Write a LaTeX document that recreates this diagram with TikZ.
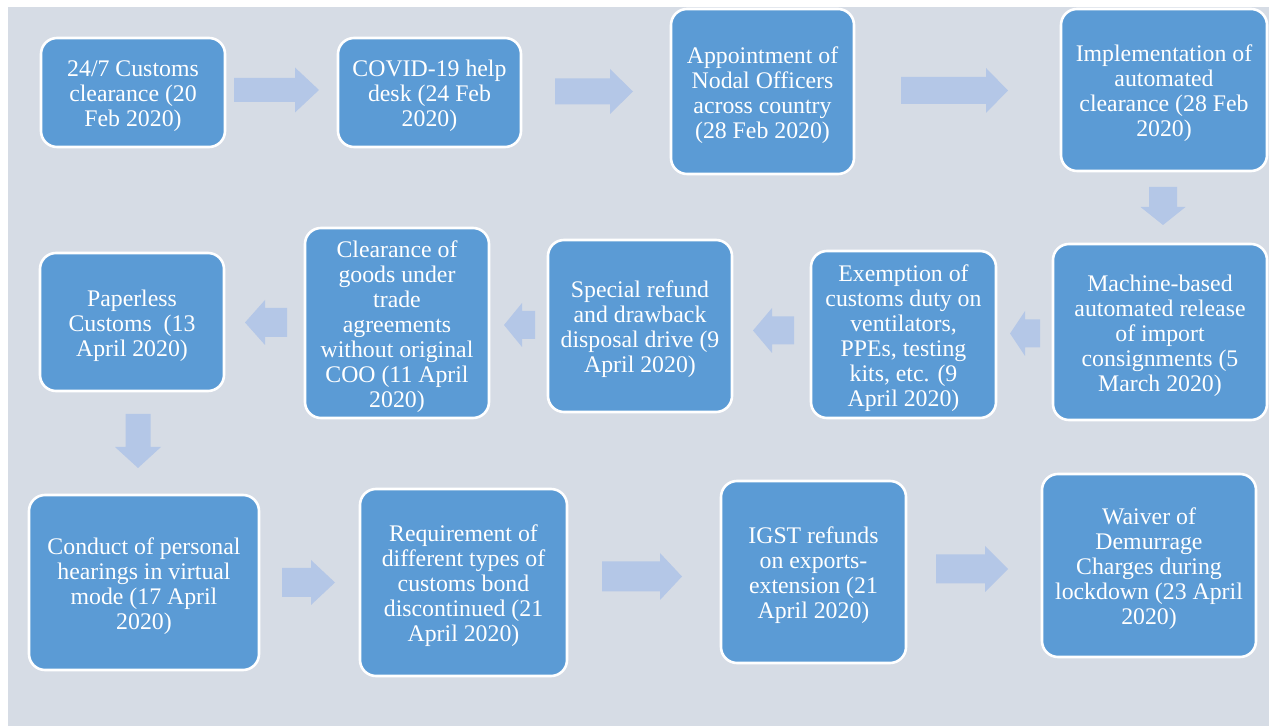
\documentclass[tikz,border=0pt]{standalone}
\usepackage{fontspec}
\setmainfont{Liberation Serif}
\definecolor{bgcol}{HTML}{D6DCE5}
\definecolor{boxcol}{HTML}{5B9BD5}
\definecolor{arrcol}{HTML}{B4C7E7}
\tikzset{
  box/.style={draw=white, line width=1.3pt, fill=boxcol, rounded corners=8pt, inner sep=0pt},
  boxtext/.style={text=white, align=center, inner sep=0pt,
    font=\fontsize{11.9}{12.5}\selectfont},
  arrowfill/.style={fill=arrcol}
}
% box: name, x, y, width, height, text
\newcommand\mybox[6]{\node[box, minimum width=#4, minimum height=#5] (#1) at (#2,#3) {};
  \node[boxtext] (#1t) at ([yshift=-1.75pt]#1.center) {#6};}
% horizontal block arrow: tail x, tip x, centre y, body half, head half, head length (signed)
\newcommand\myharrow[6]{\fill[arrowfill] (#1,{#3-#4}) -- ({#2-#6},{#3-#4}) -- ({#2-#6},{#3-#5}) -- (#2,#3) -- ({#2-#6},{#3+#5}) -- ({#2-#6},{#3+#4}) -- (#1,{#3+#4}) -- cycle;}
% vertical block arrow: tail y, tip y, centre x, body half, head half, head length
\newcommand\myvarrow[6]{\fill[arrowfill] ({#3-#4},#1) -- ({#3-#4},{#2-#6}) -- ({#3-#5},{#2-#6}) -- (#3,#2) -- ({#3+#5},{#2-#6}) -- ({#3+#4},{#2-#6}) -- ({#3+#4},#1) -- cycle;}
\begin{document}
\begin{tikzpicture}[x=0.5pt,y=-0.5pt]
\useasboundingbox (0,0) rectangle (1269,726);
\fill[white] (0,0) rectangle (1269,726);
\fill[bgcol] (8,7) rectangle (1269,726);

% row 1
\mybox{b1}{133}{92.5}{92pt}{54.5pt}{24/7 Customs\\clearance (20\\Feb 2020)}
\mybox{b2}{429.5}{92.5}{91.5pt}{54.5pt}{COVID-19 help\\desk (24 Feb\\2020)}
\mybox{b3}{762.5}{91.5}{91.5pt}{82.5pt}{Appointment of\\Nodal Officers\\across country\\(28 Feb 2020)}
\mybox{b4}{1164}{90}{103pt}{81pt}{Implementation of\\automated\\clearance (28 Feb\\2020)}

% row 2
\mybox{b5}{1160}{332}{107pt}{88pt}{Machine-based\\automated release\\of import\\consignments (5\\March 2020)}
\mybox{b6}{903.5}{334.5}{92.5pt}{83.5pt}{Exemption of\\customs duty on\\ventilators,\\PPEs, testing\\kits, etc. (9\\April 2020)}
\mybox{b7}{640}{326}{92pt}{86pt}{Special refund\\and drawback\\disposal drive (9\\April 2020)}
\mybox{b8}{397}{323}{92pt}{95pt}{Clearance of\\goods under\\trade\\agreements\\without original\\COO (11 April\\2020)}
\mybox{b9}{132}{322}{92pt}{69pt}{Paperless\\Customs\ \ (13\\April 2020)}

% row 3
\mybox{b10}{144}{582.5}{115pt}{87.5pt}{Conduct of personal\\hearings in virtual\\mode (17 April\\2020)}
\mybox{b11}{463.5}{582.5}{103.5pt}{93.5pt}{Requirement of\\different types of\\customs bond\\discontinued (21\\April 2020)}
\mybox{b12}{813.5}{572}{92.5pt}{91pt}{IGST refunds\\on exports-\\extension (21\\April 2020)}
\mybox{b13}{1149}{565.5}{107pt}{91.5pt}{Waiver of\\Demurrage\\Charges during\\lockdown (23 April\\2020)}

% block arrows
\myharrow{234}{319}{90}{12}{22.5}{24}
\myharrow{555}{633}{91.5}{13}{22.5}{23}
\myharrow{901}{1008}{90.5}{13.5}{22.5}{22}
\myvarrow{187}{225}{1163}{14}{22.5}{18}
\myharrow{1040}{1010}{333.5}{14}{22.5}{-15}
\myharrow{794}{753}{330.5}{14}{22.5}{-19}
\myharrow{535}{504}{325}{14}{22}{-18}
\myharrow{287}{245}{322.5}{14.5}{22.5}{-20}
\myvarrow{414}{468}{138}{12.5}{23}{21}
\myharrow{282}{335}{582.5}{14.5}{22.5}{24}
\myharrow{602}{682}{576.5}{15}{23.5}{22}
\myharrow{936}{1008}{569}{14.5}{23}{23}
\end{tikzpicture}
\end{document}
